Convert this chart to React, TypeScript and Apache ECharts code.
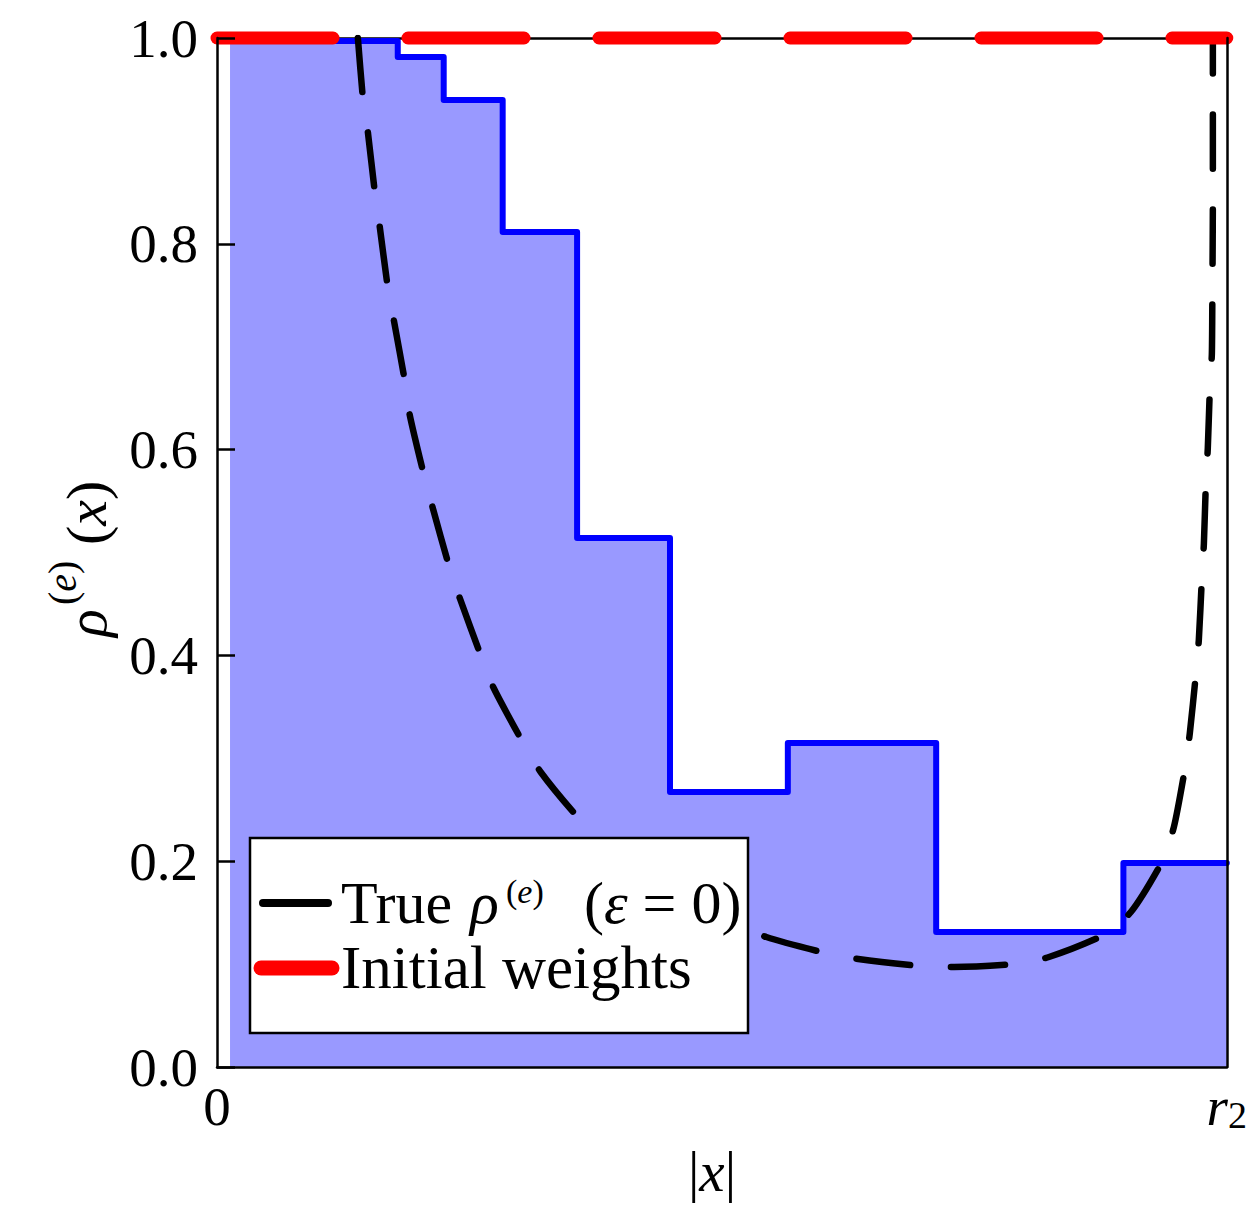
import React, { useEffect, useRef } from 'react';
import * as echarts from 'echarts';

// Histogram-like step estimate: bin left edges (last entry = right end) and bin values
const stepEdges = [0.0129, 0.179, 0.2245, 0.2829, 0.3566, 0.4486, 0.5653, 0.7122, 0.8976, 1.0];
const stepValues = [0.997, 0.9815, 0.9398, 0.8115, 0.5141, 0.2673, 0.3149, 0.1312, 0.1983];

// True rho^(e) (epsilon = 0)
const trueX = [
  0.1395, 0.1444, 0.1494, 0.1563, 0.1612, 0.1691, 0.1751, 0.186, 0.1909, 0.2047,
  0.2137, 0.2295, 0.2404, 0.2611, 0.274, 0.3027, 0.3205, 0.3571, 0.3986, 0.4481,
  0.4975, 0.544, 0.6024, 0.635, 0.6954, 0.73, 0.7893, 0.8239, 0.8783, 0.905,
  0.9357, 0.9476, 0.9585, 0.9634, 0.9693, 0.9723, 0.9753, 0.9773, 0.9792, 0.9812,
  0.9832, 0.9852, 0.9857, 0.9862, 0.9862,
];
const trueY = [
  1.0, 0.9427, 0.9086, 0.8503, 0.8163, 0.758, 0.7259, 0.6667, 0.6336, 0.5763,
  0.5432, 0.4879, 0.4558, 0.4004, 0.3683, 0.3158, 0.2867, 0.243, 0.2041, 0.1691,
  0.1448, 0.1263, 0.1108, 0.105, 0.0982, 0.0972, 0.1001, 0.1069, 0.1283, 0.1506,
  0.1992, 0.2332, 0.2896, 0.3246, 0.381, 0.415, 0.4742, 0.5083, 0.5646, 0.6016,
  0.6579, 0.6929, 0.7512, 0.8426, 1.0,
];

// Initial weights
const initX = [0, 1];
const initY = [1, 1];

const yTickLabels = ['0.0', '0.2', '0.4', '0.6', '0.8', '1.0'];
const xTickLabels = ['0', '{r|r}{s|2}'];

const SERIF = "'Liberation Serif', 'Times New Roman', serif";

const txt = (x: number, y: number, text: string, size: number, italic = false, align = 'left', rich?: any) => ({
  type: 'text',
  x,
  y,
  z: 101,
  style: {
    text,
    fontFamily: SERIF,
    fontSize: size,
    fontStyle: italic ? 'italic' : 'normal',
    fill: '#000',
    align,
    verticalAlign: 'middle',
    textAlign: align,
    textVerticalAlign: 'middle',
    rich,
  },
});

const mkRich = (size: number) => ({
  n: { fontFamily: SERIF, fontSize: size, color: '#000' },
  i: { fontFamily: SERIF, fontSize: size, fontStyle: 'italic', color: '#000' },
});

export default function App() {
  const ref = useRef<HTMLDivElement>(null);

  useEffect(() => {
    const chart = echarts.init(ref.current!, null, { renderer: 'svg' });
    const stepData = stepEdges.map((e, i) => [e, stepValues[Math.min(i, stepValues.length - 1)]]);
    const trueData = trueX.map((x, i) => [x, trueY[i]]);
    const initData = initX.map((x, i) => [x, initY[i]]);
    const axisLine = { show: true, onZero: false, lineStyle: { color: '#000', width: 2.5 } };

    chart.setOption({
      animation: false,
      backgroundColor: '#ffffff',
      grid: { left: 217, top: 38, width: 1011, height: 1029, containLabel: false },
      xAxis: [
        {
          type: 'value',
          min: 0,
          max: 1,
          interval: 1,
          position: 'bottom',
          z: 10,
          axisLine,
          axisTick: { show: false },
          splitLine: { show: false },
          axisLabel: {
            margin: 12,
            color: '#000',
            fontFamily: SERIF,
            fontSize: 55,
            formatter: (v: number) => (v === 0 ? xTickLabels[0] : xTickLabels[1]),
            rich: {
              r: { fontFamily: SERIF, fontSize: 55, fontStyle: 'italic', color: '#000', verticalAlign: 'top', lineHeight: 55, padding: [0, 0, 4, 0] },
              s: { fontFamily: SERIF, fontSize: 38, color: '#000', verticalAlign: 'bottom', lineHeight: 38 },
            },
          },
        },
        {
          type: 'value',
          min: 0,
          max: 1,
          position: 'top',
          z: 1,
          axisLine,
          axisTick: { show: false },
          axisLabel: { show: false },
          splitLine: { show: false },
        },
      ],
      yAxis: [
        {
          type: 'value',
          min: 0,
          max: 1,
          interval: 0.2,
          position: 'left',
          z: 10,
          axisLine,
          axisTick: { show: true, inside: true, length: 18, lineStyle: { color: '#000', width: 2.5 } },
          splitLine: { show: false },
          axisLabel: {
            margin: 19,
            color: '#000',
            fontFamily: SERIF,
            fontSize: 55,
            formatter: (v: number) => yTickLabels[Math.round(v / 0.2)],
          },
        },
        {
          type: 'value',
          min: 0,
          max: 1,
          position: 'right',
          z: 10,
          axisLine,
          axisTick: { show: false },
          axisLabel: { show: false },
          splitLine: { show: false },
        },
      ],
      series: [
        {
          name: 'Estimated weights',
          type: 'line',
          step: 'end',
          data: stepData,
          symbol: 'none',
          lineStyle: { color: '#0000ff', width: 6, cap: 'round', join: 'round' },
          areaStyle: { color: '#9999ff', opacity: 1 },
        },
        {
          name: 'True rho',
          type: 'line',
          data: trueData,
          symbol: 'none',
          smooth: 0.2,
          lineStyle: { color: '#000', width: 6.5, type: [54, 41], cap: 'round', join: 'round' },
        },
        {
          name: 'Initial weights',
          type: 'line',
          data: initData,
          symbol: 'none',
          clip: false,
          lineStyle: { color: '#ff0000', width: 13, type: [116, 75], cap: 'round' },
        },
      ],
      graphic: [
        // y axis title rho^(e)(x), rotated
        {
          type: 'group',
          x: 86,
          y: 637,
          rotation: Math.PI / 2,
          z: 100,
          children: [
            txt(0, 0, 'ρ', 58, true),
            txt(32, -24, '{n|(}{i|e}{n|)}', 40, false, 'left', mkRich(40)),
            txt(92, 0, '{n|(}{i|x}{n|)}', 58, false, 'left', mkRich(58)),
          ],
        },
        // x axis title |x|
        txt(712, 1171, '{n||}{i|x}{n||}', 57, false, 'center', mkRich(57)),
        // legend box
        {
          type: 'rect',
          z: 100,
          shape: { x: 250, y: 838, width: 498, height: 195 },
          style: { fill: '#ffffff', stroke: '#000000', lineWidth: 2.5 },
        },
        {
          type: 'line',
          z: 101,
          shape: { x1: 263, y1: 903, x2: 328, y2: 903 },
          style: { stroke: '#000000', lineWidth: 8, lineCap: 'round' },
        },
        {
          type: 'line',
          z: 101,
          shape: { x1: 261, y1: 968, x2: 332, y2: 968 },
          style: { stroke: '#ff0000', lineWidth: 15, lineCap: 'round' },
        },
        txt(341, 903, 'True', 60),
        txt(470, 903, 'ρ', 60, true),
        txt(506, 891, '{n|(}{i|e}{n|)}', 34, false, 'left', mkRich(34)),
        txt(584, 903, '{n|(}{i|ε}{n| = 0)}', 60, false, 'left', mkRich(60)),
        txt(341, 967, 'Initial weights', 61),
      ],
    });
    return () => chart.dispose();
  }, []);

  return (
    <div
      ref={ref}
      style={{ position: 'fixed', left: 0, top: 0, width: 1250, height: 1205, background: '#fff' }}
    />
  );
}
